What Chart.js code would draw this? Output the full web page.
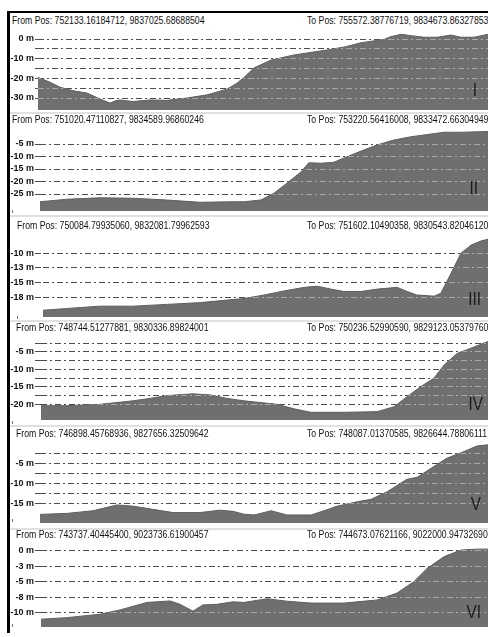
<!DOCTYPE html>
<html>
<head>
<meta charset="utf-8">
<script src="https://cdn.jsdelivr.net/npm/chart.js@4.4.0/dist/chart.umd.min.js"></script>
<style>
  html, body { margin: 0; padding: 0; background: #fff; }
  #page { position: relative; width: 488px; height: 637px; overflow: hidden; background: #fff; }
  .bar { position: absolute; background: #000; z-index: 2; }
  .sep { position: absolute; left: 10px; width: 478px; height: 2px; background: #e0e0e0; }
  .hdr { position: absolute; font: 10px "Liberation Sans", Arial, sans-serif; color: #111; white-space: nowrap; line-height: 12px; transform: scaleX(0.87); transform-origin: 0 0; }
  .num { position: absolute; width: 40px; text-align: right; font: 18px "Liberation Sans", sans-serif; color: #1a1a1a; line-height: 20px; transform: scaleX(0.85); transform-origin: 100% 0; }
  .mark { position: absolute; width: 1px; height: 3px; background: #777; }
  canvas { position: absolute; }
</style>
</head>
<body>
<div id="page">
  <div class="bar" style="left:7px;top:11px;width:481px;height:2px"></div>
  <div class="bar" style="left:7px;top:11px;width:3px;height:622px"></div>
</div>
<script>
// distance along each profile (% of its length) and depth in metres
const posI   = [0, 2.7, 4.9, 7.8, 10.9, 13.8, 16, 17.1, 18.2, 21.1, 24.9, 28.7, 33.1, 37.6, 42, 44.2, 45.8, 48, 51.8, 56.9, 64.2, 68.2, 71.8, 76.9, 78.4, 80.7, 82.9, 85.8, 88.7, 91.8, 94, 96.9, 100];
const depthI = [-19.5, -22, -24.5, -26.3, -27.5, -30.5, -32.6, -31.5, -31, -31.8, -31, -31.2, -30, -28.4, -25.5, -22.5, -19.5, -14.7, -10.7, -8.1, -5.6, -4, -1.9, -0.2, 1.2, 2.4, 1.7, 0.9, 0.9, 2, 0.9, 0.9, 2.4];

const posII   = [0, 6, 13.4, 20.8, 28.3, 35.7, 43.1, 45.5, 49.3, 52.2, 55.1, 58.3, 60, 62.7, 65.6, 68.5, 71.7, 75.2, 79, 82.8, 87.3, 90.2, 94, 100];
const depthII = [-28.1, -27.1, -26.5, -26.7, -27.4, -28.3, -28.1, -28.1, -27.4, -24.7, -20.7, -16.1, -12.5, -12.7, -12.3, -10.1, -7.8, -5.4, -3.4, -2.1, -1, -0.3, -0.3, 0];

const posIII   = [0, 5.4, 12.8, 20.2, 27.9, 35.3, 45.2, 49.7, 54.2, 58.7, 61.6, 64.7, 67.6, 71.5, 75.1, 79.6, 81.8, 84, 87.9, 89.4, 91.7, 93.9, 96.2, 98.4, 100];
const depthIII = [-19.7, -19.4, -19, -19, -18.7, -18.4, -17.7, -17.1, -16.4, -15.8, -15.6, -16.1, -16.5, -16.5, -16.1, -15.8, -16.5, -17.1, -17.3, -16.8, -13.4, -10, -8.6, -7.9, -7.6];

const posIV   = [0, 5.8, 13.2, 20.6, 24.4, 28.2, 34, 37.8, 41.6, 45.4, 52.8, 56.6, 60.4, 67.8, 75.2, 79, 81.9, 85, 87.9, 90.2, 93.1, 96.2, 100];
const depthIV = [-20.4, -20.4, -20, -19, -18.3, -17.5, -17, -17.3, -18.3, -19, -20, -21.3, -22.3, -22.3, -22.1, -20.7, -17.8, -14.9, -12.5, -8.7, -5.4, -3.9, -2];

const posV   = [0, 6, 11.8, 17.2, 20.8, 25.2, 29.7, 35.7, 40.2, 43.1, 45.5, 47.8, 51.6, 55.1, 60.5, 63.4, 66.3, 70.8, 73.9, 77.5, 81.9, 84.2, 87.3, 90.8, 94.6, 97.5, 100];
const depthV = [-17.75, -17.5, -16.85, -15.4, -15.7, -16.5, -17.3, -17.3, -16.7, -17, -17.7, -17.9, -16.85, -17.9, -17.9, -16.85, -15.7, -14.6, -14, -12.1, -9, -8.5, -6.25, -3.75, -2.1, -0.7, -0.4];

const posVI   = [0, 5.8, 13.2, 17.7, 23.7, 28.9, 31.1, 34, 36.2, 39.4, 43, 45.4, 50.6, 55, 60.4, 67.8, 75.2, 79.6, 83.4, 86.4, 90.2, 94, 97.5, 100];
const depthVI = [-11, -10.75, -10.2, -9.5, -8.3, -8.06, -8.6, -9.7, -8.7, -8.6, -8.2, -8.3, -7.7, -8.1, -8.4, -8.4, -7.9, -6.8, -4.95, -2.8, -0.9, 0.16, 0.3, 0.3];

// grid lines and which of them carry a label
const ticksI = [0, -5, -10, -15, -20, -25, -30];
const labelsI = [0, -10, -20, -30];
const ticksII = [-5, -10, -15, -20, -25];
const ticksIII = [-10, -12.5, -15, -17.5];
const ticksIV = [-2.5, -5, -7.5, -10, -12.5, -15, -17.5, -20];
const labelsIV = [-5, -10, -15, -20];
const ticksV = [-2.5, -5, -7.5, -10, -12.5, -15];
const labelsV = [-5, -10, -15];
const ticksVI = [0, -2.5, -5, -7.5, -10];

const fromText = [
  'From Pos: 752133.16184712, 9837025.68688504',
  'From Pos: 751020.47110827, 9834589.96860246',
  'From Pos: 750084.79935060, 9832081.79962593',
  'From Pos: 748744.51277881, 9830336.89824001',
  'From Pos: 746898.45768936, 9827656.32509642',
  'From Pos: 743737.40445400, 9023736.61900457'
];
const toText = [
  'To Pos: 755572.38776719, 9834673.86327853',
  'To Pos: 753220.56416008, 9833472.66304949',
  'To Pos: 751602.10490358, 9830543.82046120',
  'To Pos: 750236.52990590, 9829123.05379760',
  'To Pos: 748087.01370585, 9826644.78806111',
  'To Pos: 744673.07621166, 9022000.94732690'
];
const numerals = ['I', 'II', 'III', 'IV', 'V', 'VI'];

const panels = [
  { pos: posI,   depth: depthI,   ticks: ticksI,   labels: labelsI,  top: 28,  bottom: 110, x0: 38, max: 5.6,   min: -36.1, hdr: 14.7,  fromX: 12, numTop: 80,    numRight: 477 },
  { pos: posII,  depth: depthII,  ticks: ticksII,  labels: ticksII,  top: 128, bottom: 211, x0: 40, max: 1.4,   min: -31.8, hdr: 114,   fromX: 12, numTop: 178,   numRight: 478 },
  { pos: posIII, depth: depthIII, ticks: ticksIII, labels: ticksIII, top: 237, bottom: 317, x0: 43, max: -7.22, min: -20.85, hdr: 219.7, fromX: 17, numTop: 288.5, numRight: 481 },
  { pos: posIV,  depth: depthIV,  ticks: ticksIV,  labels: labelsIV, top: 335, bottom: 420, x0: 41, max: -0.13, min: -24.5, hdr: 322.3, fromX: 16, numTop: 393.5, numRight: 483 },
  { pos: posV,   depth: depthV,   ticks: ticksV,   labels: labelsV,  top: 440, bottom: 523, x0: 40, max: 0.8,   min: -19.9, hdr: 428,   fromX: 16, numTop: 494,   numRight: 481 },
  { pos: posVI,  depth: depthVI,  ticks: ticksVI,  labels: ticksVI,  top: 543, bottom: 627, x0: 41, max: 1.29,  min: -12.26, hdr: 529,  fromX: 16, numTop: 602,   numRight: 481 }
];
const separators = [112, 215, 320, 425, 528];
const marks = [[12, 210], [17, 316], [12, 421], [12, 519], [12, 624]];

const FONT = '"Liberation Sans", Arial, sans-serif';
const DASH = [6, 3, 2, 3];
const PAD = 8;

// light dashes where the grid crosses the filled profile
const overGrid = {
  id: 'overGrid',
  afterDatasetsDraw(chart) {
    const pts = chart.getDatasetMeta(0).data;
    const area = chart.chartArea;
    const ys = chart.scales.y;
    const ctx = chart.ctx;
    ctx.save();
    ctx.beginPath();
    ctx.moveTo(pts[0].x, area.bottom);
    pts.forEach(p => ctx.lineTo(p.x, p.y));
    ctx.lineTo(pts[pts.length - 1].x, area.bottom);
    ctx.closePath();
    ctx.clip();
    ctx.strokeStyle = '#a9a9a9';
    ctx.lineWidth = 1;
    ctx.setLineDash(DASH);
    ys.ticks.forEach((t, i) => {
      const y = Math.round(ys.getPixelForTick(i) - 0.5) + 0.5;
      ctx.beginPath();
      ctx.moveTo(area.left, y);
      ctx.lineTo(area.right, y);
      ctx.stroke();
    });
    ctx.restore();
  }
};

const page = document.getElementById('page');

function addDiv(cls, style, text) {
  const d = document.createElement('div');
  d.className = cls;
  d.setAttribute('style', style);
  if (text) d.textContent = text;
  page.appendChild(d);
  return d;
}

separators.forEach(y => addDiv('sep', 'top:' + y + 'px'));
marks.forEach(m => addDiv('mark', 'left:' + m[0] + 'px;top:' + m[1] + 'px'));

panels.forEach((p, k) => {
  addDiv('hdr', 'left:' + p.fromX + 'px;top:' + p.hdr + 'px', fromText[k]);
  addDiv('hdr', 'left:307px;top:' + p.hdr + 'px', toText[k]);

  const canvas = document.createElement('canvas');
  canvas.width = 480;
  canvas.height = p.bottom - p.top + PAD * 2;
  canvas.style.left = '8px';
  canvas.style.top = (p.top - PAD) + 'px';
  page.appendChild(canvas);

  new Chart(canvas, {
    type: 'line',
    data: {
      datasets: [{
        data: p.pos.map((x, i) => ({ x: x, y: p.depth[i] })),
        borderColor: '#5e5e5e',
        backgroundColor: '#6f6f6f',
        borderWidth: 1,
        pointRadius: 0,
        tension: 0,
        fill: 'start'
      }]
    },
    options: {
      responsive: false,
      animation: false,
      layout: { padding: { top: PAD, bottom: PAD, left: 0, right: 0 } },
      plugins: { legend: { display: false }, tooltip: { enabled: false } },
      scales: {
        x: { type: 'linear', min: 0, max: 100, display: false },
        y: {
          min: p.min,
          max: p.max,
          afterFit(scale) { scale.width = p.x0 - 8; },
          afterBuildTicks(scale) { scale.ticks = p.ticks.map(v => ({ value: v })); },
          ticks: {
            autoSkip: false,
            padding: 1,
            color: '#111',
            font: { family: FONT, size: 9, weight: 'bold' },
            callback: v => p.labels.includes(v) ? v.toFixed(0) + ' m' : ''
          },
          grid: {
            color: '#4c4c4c',
            lineWidth: 1,
            tickLength: p.x0 - 35,
            tickColor: '#4c4c4c',
            tickBorderDash: DASH
          },
          border: { display: false, dash: DASH }
        }
      }
    },
    plugins: [overGrid]
  });

  addDiv('num', 'left:' + (p.numRight - 40) + 'px;top:' + p.numTop + 'px', numerals[k]);
});
</script>
</body>
</html>
